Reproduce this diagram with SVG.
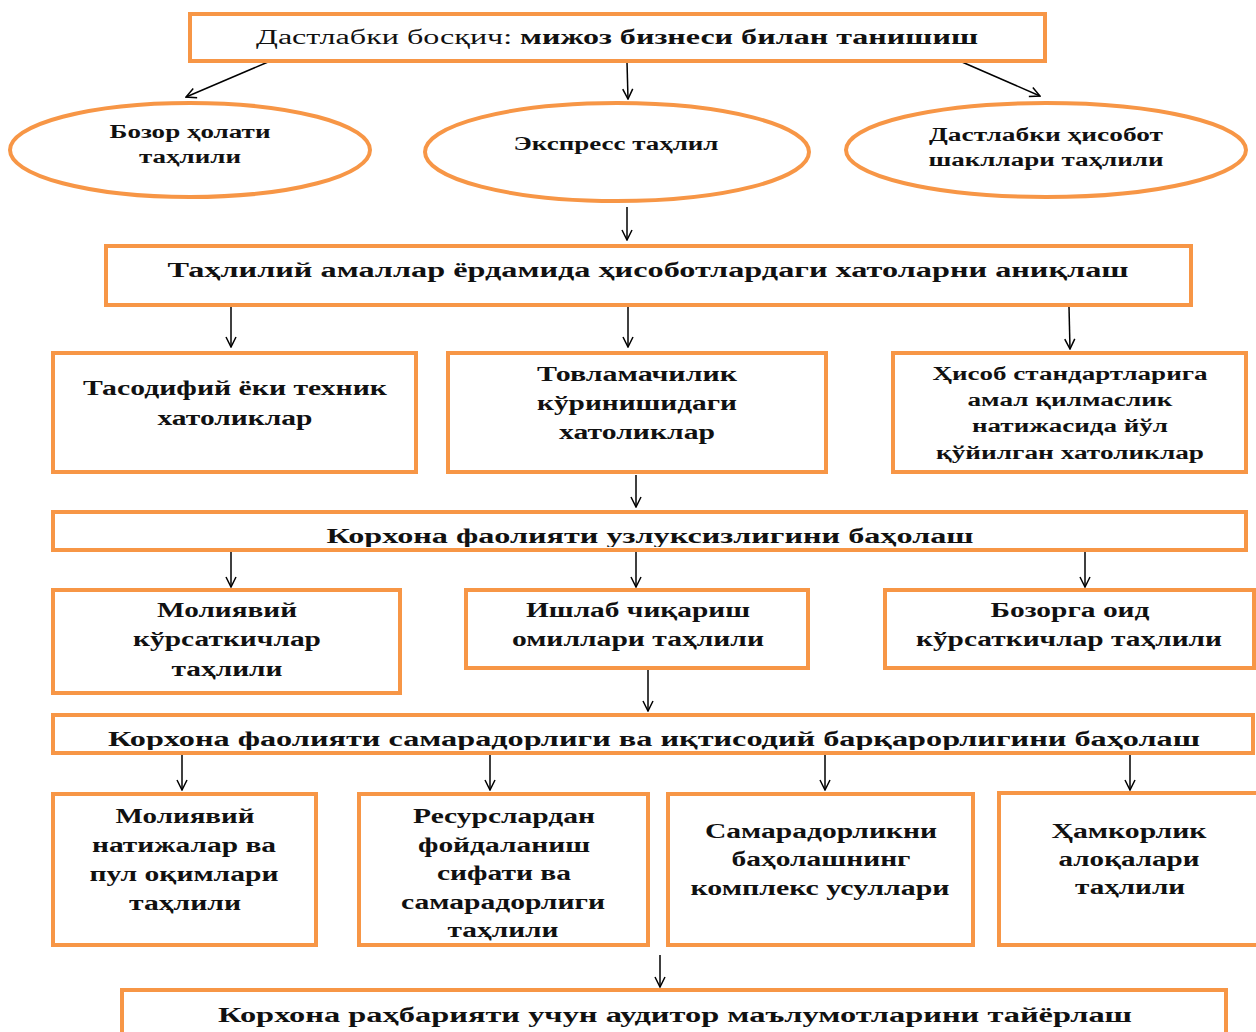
<svg xmlns="http://www.w3.org/2000/svg" width="1256" height="1032" viewBox="0 0 1256 1032">
<defs>
<style>
.box{fill:#fff;stroke:#F79646;stroke-width:4}
.t{font-family:"Liberation Serif","Times New Roman",serif;font-weight:bold;font-size:20px;fill:#111;text-anchor:middle}
.s{font-size:18px}
.c line{stroke:#000;stroke-width:1.5;marker-end:url(#ah)}
</style>
<marker id="ah" viewBox="0 0 12 12" refX="11" refY="6" markerWidth="12" markerHeight="12" markerUnits="userSpaceOnUse" orient="auto">
<path d="M1,1 L11,6 L1,11" fill="none" stroke="#000" stroke-width="1.5"/>
</marker>
<clipPath id="c4"><rect x="55" y="514" width="1189" height="33"/></clipPath>
<clipPath id="c6"><rect x="55" y="717" width="1196" height="33"/></clipPath>
</defs>

<g id="connectors" class="c">
<line x1="268" y1="62" x2="186" y2="97"/>
<line x1="627" y1="62" x2="628" y2="99"/>
<line x1="962" y1="62" x2="1040" y2="96"/>
<line x1="627" y1="207" x2="627" y2="240"/>
<line x1="231" y1="307" x2="231" y2="347"/>
<line x1="628" y1="307" x2="628" y2="347"/>
<line x1="1069" y1="307" x2="1070" y2="349"/>
<line x1="636" y1="475" x2="636" y2="507"/>
<line x1="231" y1="551" x2="231" y2="587"/>
<line x1="636" y1="551" x2="636" y2="587"/>
<line x1="1085" y1="551" x2="1085" y2="587"/>
<line x1="648" y1="668" x2="648" y2="711"/>
<line x1="182" y1="754" x2="182" y2="790"/>
<line x1="490" y1="754" x2="490" y2="790"/>
<line x1="825" y1="754" x2="825" y2="790"/>
<line x1="1130" y1="754" x2="1130" y2="790"/>
<line x1="660" y1="955" x2="660" y2="987"/>
</g>

<g id="n-start">
<rect class="box" x="190" y="14" width="855" height="47"/>
<text class="t" x="617" y="44" textLength="722" lengthAdjust="spacingAndGlyphs"><tspan font-weight="normal">Дастлабки босқич: </tspan>мижоз бизнеси билан танишиш</text>
</g>

<g id="n-market">
<ellipse class="box" cx="190" cy="150" rx="180" ry="47"/>
<text class="t s" x="190" y="138" textLength="161" lengthAdjust="spacingAndGlyphs">Бозор ҳолати</text>
<text class="t s" x="190" y="163" textLength="102" lengthAdjust="spacingAndGlyphs">таҳлили</text>
</g>

<g id="n-express">
<ellipse class="box" cx="617" cy="152" rx="192" ry="49"/>
<text class="t s" x="616" y="150" textLength="205" lengthAdjust="spacingAndGlyphs">Экспресс таҳлил</text>
</g>

<g id="n-prelim">
<ellipse class="box" cx="1046" cy="150" rx="200" ry="47"/>
<text class="t s" x="1046" y="141" textLength="234" lengthAdjust="spacingAndGlyphs">Дастлабки ҳисобот</text>
<text class="t s" x="1046" y="166" textLength="235" lengthAdjust="spacingAndGlyphs">шакллари таҳлили</text>
</g>

<g id="n-errors">
<rect class="box" x="106" y="246" width="1085" height="59"/>
<text class="t" x="648" y="277" textLength="961" lengthAdjust="spacingAndGlyphs">Таҳлилий амаллар ёрдамида ҳисоботлардаги хатоларни аниқлаш</text>
</g>

<g id="n-random">
<rect class="box" x="53" y="353" width="363" height="119"/>
<text class="t" x="235" y="395" textLength="304" lengthAdjust="spacingAndGlyphs">Тасодифий ёки техник</text>
<text class="t" x="235" y="425" textLength="155" lengthAdjust="spacingAndGlyphs">хатоликлар</text>
</g>

<g id="n-fraud">
<rect class="box" x="448" y="353" width="378" height="119"/>
<text class="t" x="637" y="381" textLength="200" lengthAdjust="spacingAndGlyphs">Товламачилик</text>
<text class="t" x="637" y="410" textLength="200" lengthAdjust="spacingAndGlyphs">кўринишидаги</text>
<text class="t" x="637" y="439" textLength="156" lengthAdjust="spacingAndGlyphs">хатоликлар</text>
</g>

<g id="n-standards">
<rect class="box" x="893" y="353" width="353" height="119"/>
<text class="t s" x="1070" y="380" textLength="275" lengthAdjust="spacingAndGlyphs">Ҳисоб стандартларига</text>
<text class="t s" x="1070" y="406" textLength="205" lengthAdjust="spacingAndGlyphs">амал қилмаслик</text>
<text class="t s" x="1070" y="432" textLength="196" lengthAdjust="spacingAndGlyphs">натижасида йўл</text>
<text class="t s" x="1070" y="459" textLength="268" lengthAdjust="spacingAndGlyphs">қўйилган хатоликлар</text>
</g>

<g id="n-continuity">
<rect class="box" x="53" y="512" width="1193" height="38"/>
<text class="t" x="650" y="543" textLength="647" lengthAdjust="spacingAndGlyphs" clip-path="url(#c4)">Корхона фаолияти узлуксизлигини баҳолаш</text>
</g>

<g id="n-fin-ind">
<rect class="box" x="53" y="590" width="347" height="103"/>
<text class="t" x="227" y="617" textLength="140" lengthAdjust="spacingAndGlyphs">Молиявий</text>
<text class="t" x="227" y="646" textLength="188" lengthAdjust="spacingAndGlyphs">кўрсаткичлар</text>
<text class="t" x="227" y="676" textLength="111" lengthAdjust="spacingAndGlyphs">таҳлили</text>
</g>

<g id="n-production">
<rect class="box" x="466" y="590" width="342" height="78"/>
<text class="t" x="638" y="617" textLength="224" lengthAdjust="spacingAndGlyphs">Ишлаб чиқариш</text>
<text class="t" x="638" y="646" textLength="252" lengthAdjust="spacingAndGlyphs">омиллари таҳлили</text>
</g>

<g id="n-market-ind">
<rect class="box" x="885" y="590" width="369" height="78"/>
<text class="t" x="1070" y="617" textLength="159" lengthAdjust="spacingAndGlyphs">Бозорга оид</text>
<text class="t" x="1069" y="646" textLength="306" lengthAdjust="spacingAndGlyphs">кўрсаткичлар таҳлили</text>
</g>

<g id="n-efficiency">
<rect class="box" x="53" y="715" width="1200" height="38"/>
<text class="t" x="654" y="746" textLength="1092" lengthAdjust="spacingAndGlyphs" clip-path="url(#c6)">Корхона фаолияти самарадорлиги ва иқтисодий барқарорлигини баҳолаш</text>
</g>

<g id="n-fin-results">
<rect class="box" x="53" y="794" width="263" height="151"/>
<text class="t" x="185" y="823" textLength="139" lengthAdjust="spacingAndGlyphs">Молиявий</text>
<text class="t" x="184" y="852" textLength="184" lengthAdjust="spacingAndGlyphs">натижалар ва</text>
<text class="t" x="184" y="881" textLength="189" lengthAdjust="spacingAndGlyphs">пул оқимлари</text>
<text class="t" x="185" y="910" textLength="112" lengthAdjust="spacingAndGlyphs">таҳлили</text>
</g>

<g id="n-resources">
<rect class="box" x="359" y="794" width="289" height="151"/>
<text class="t" x="504" y="823" textLength="182" lengthAdjust="spacingAndGlyphs">Ресурслардан</text>
<text class="t" x="504" y="852" textLength="172" lengthAdjust="spacingAndGlyphs">фойдаланиш</text>
<text class="t" x="504" y="880" textLength="134" lengthAdjust="spacingAndGlyphs">сифати ва</text>
<text class="t" x="503" y="909" textLength="204" lengthAdjust="spacingAndGlyphs">самарадорлиги</text>
<text class="t" x="503" y="937" textLength="111" lengthAdjust="spacingAndGlyphs">таҳлили</text>
</g>

<g id="n-complex">
<rect class="box" x="668" y="794" width="305" height="151"/>
<text class="t" x="821" y="838" textLength="232" lengthAdjust="spacingAndGlyphs">Самарадорликни</text>
<text class="t" x="821" y="866" textLength="179" lengthAdjust="spacingAndGlyphs">баҳолашнинг</text>
<text class="t" x="820" y="895" textLength="259" lengthAdjust="spacingAndGlyphs">комплекс усуллари</text>
</g>

<g id="n-partners">
<rect class="box" x="999" y="793" width="270" height="152"/>
<text class="t" x="1129" y="838" textLength="155" lengthAdjust="spacingAndGlyphs">Ҳамкорлик</text>
<text class="t" x="1129" y="866" textLength="141" lengthAdjust="spacingAndGlyphs">алоқалари</text>
<text class="t" x="1130" y="894" textLength="110" lengthAdjust="spacingAndGlyphs">таҳлили</text>
</g>

<g id="n-report">
<rect class="box" x="122" y="990" width="1104" height="60"/>
<text class="t" x="675" y="1022" textLength="914" lengthAdjust="spacingAndGlyphs">Корхона раҳбарияти учун аудитор маълумотларини тайёрлаш</text>
</g>
</svg>
